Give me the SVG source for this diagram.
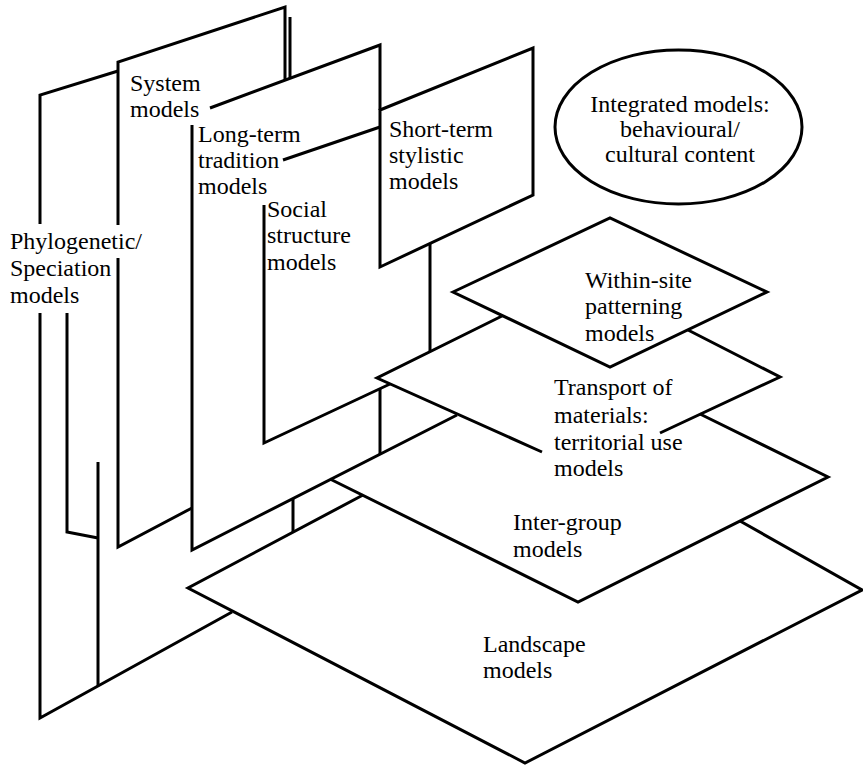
<svg xmlns="http://www.w3.org/2000/svg" width="863" height="767" viewBox="0 0 863 767">
<style>
.ln{fill:none;stroke:#000;stroke-width:3;stroke-linejoin:miter;stroke-linecap:butt}
.pl{fill:#fff;stroke:#000;stroke-width:3;stroke-linejoin:miter}
.t{font-family:'Liberation Serif',serif;font-size:24px;fill:#000}
.c{text-anchor:middle}
</style>
<rect width="863" height="767" fill="#fff"/>
<g id="phylogenetic">
<polyline class="ln" points="118,71 40,95 40,224"/>
<polyline class="ln" points="40,313 40,718 232,612"/>
<polyline class="ln" points="67,313 67,532 98,538"/>
<line class="ln" x1="98" y1="462" x2="98" y2="686"/>
<text class="t" x="10" y="249">Phylogenetic/</text>
<text class="t" x="10" y="276">Speciation</text>
<text class="t" x="10" y="303">models</text>
</g>
<g id="system">
<polyline class="ln" points="118,225 118,62 285,7 285,80"/>
<polyline class="ln" points="118,258 118,547 192,508"/>
<line class="ln" x1="290" y1="17" x2="290" y2="78"/>
<text class="t" x="130" y="91">System</text>
<text class="t" x="130" y="117">models</text>
</g>
<g id="long-term">
<polyline class="ln" points="210,108 380,45 380,110"/>
<polyline class="ln" points="192,125 192,550 457,415"/>
<line class="ln" x1="293" y1="499" x2="293" y2="532"/>
<text class="t" x="198" y="142">Long-term</text>
<text class="t" x="198" y="168">tradition</text>
<text class="t" x="198" y="194">models</text>
</g>
<g id="social">
<line class="ln" x1="283" y1="160" x2="380" y2="127"/>
<polyline class="ln" points="264,205 264,443 390,384"/>
<line class="ln" x1="380" y1="389" x2="380" y2="454"/>
<text class="t" x="267" y="217">Social</text>
<text class="t" x="267" y="243">structure</text>
<text class="t" x="267" y="270">models</text>
</g>
<g id="short-term">
<polygon class="pl" points="380,110 533,48 533,195 380,267"/>
<line class="ln" x1="430" y1="243" x2="430" y2="352"/>
<text class="t" x="389" y="137">Short-term</text>
<text class="t" x="389" y="163">stylistic</text>
<text class="t" x="389" y="189">models</text>
</g>
<g id="integrated">
<ellipse class="pl" cx="678.5" cy="127" rx="123.5" ry="77"/>
<text class="t c" x="680" y="112">Integrated models:</text>
<text class="t c" x="680" y="137">behavioural/</text>
<text class="t c" x="680" y="162">cultural content</text>
</g>
<g id="within-site">
<polygon class="pl" points="453,292 610,218 767,292 610,367"/>
<text class="t" x="585" y="288">Within-site</text>
<text class="t" x="585" y="314">patterning</text>
<text class="t" x="585" y="341">models</text>
</g>
<g id="transport">
<polyline class="ln" points="502,316 377,378 542,452"/>
<polyline class="ln" points="688,330 780,377 660,433"/>
<text class="t" x="554" y="395">Transport of</text>
<text class="t" x="554" y="423">materials:</text>
<text class="t" x="554" y="450">territorial use</text>
<text class="t" x="554" y="476">models</text>
</g>
<g id="inter-group">
<polyline class="ln" points="330,479 578,602 828,477 700,414"/>
<text class="t" x="513" y="530">Inter-group</text>
<text class="t" x="513" y="557">models</text>
</g>
<g id="landscape">
<polyline class="ln" points="363,495 188,588 525,763 862,590 740,521"/>
<text class="t" x="483" y="652">Landscape</text>
<text class="t" x="483" y="678">models</text>
</g>
<g id="connectors"></g>
</svg>
